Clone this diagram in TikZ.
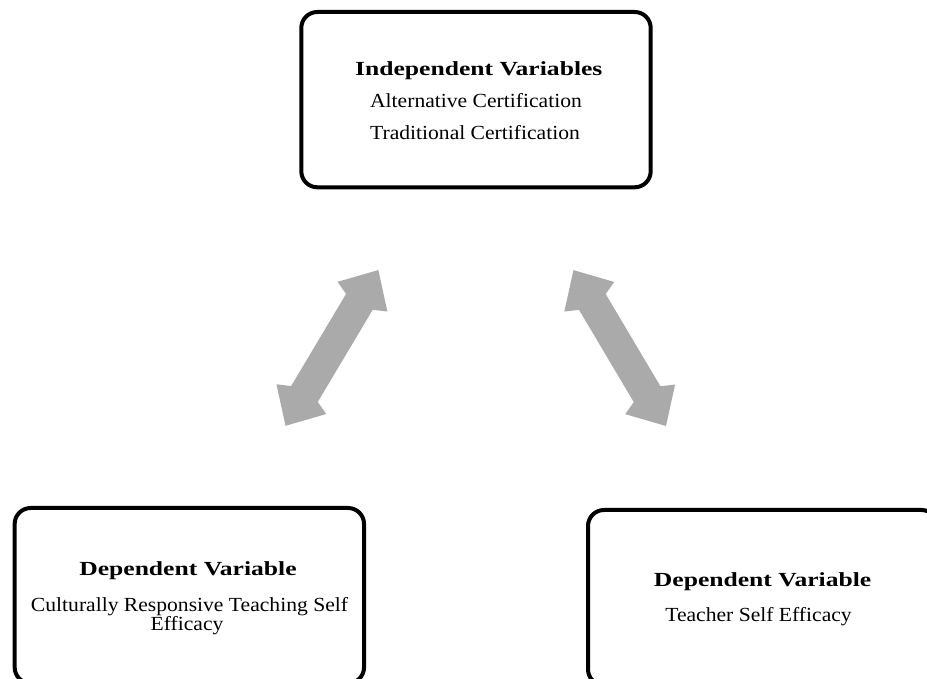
\documentclass[tikz,border=0pt]{standalone}
\usepackage{fontspec}
\setmainfont{Liberation Serif}
\newfontfamily\headfont[FakeStretch=1.28]{Liberation Serif}
\newfontfamily\bodyfont[FakeStretch=1.08]{Liberation Serif}
\definecolor{arrowgray}{RGB}{170,170,170}
\begin{document}
\begin{tikzpicture}[x=1pt,y=1pt,
  varbox/.style={draw=black, line width=4pt, rounded corners=16pt,
    minimum width=349.4pt, minimum height=175.3pt, inner sep=0pt},
  headtxt/.style={anchor=base, inner sep=0pt, font=\headfont\bfseries\fontsize{20}{24}\selectfont},
  bodytxt/.style={anchor=base, inner sep=0pt, font=\bodyfont\fontsize{20}{24}\selectfont},
  dblarrow/.pic={\fill[arrowgray] (0,0) -- (31,29) -- (37,15.5) -- (144.3,15.5)
     -- (150.3,29) -- (181.3,0) -- (150.3,-29) -- (144.3,-15.5) -- (37,-15.5)
     -- (31,-29) -- cycle;}
]
\useasboundingbox (0,0) rectangle (927,679);
\clip (0,0) rectangle (927,679);
\fill[white] (0,0) rectangle (927,679);

% boxes
\node[varbox] (indep) at (476,579.35) {};
\node[varbox] (depl) at (189.35,83.35) {};
\node[varbox] (depr) at (762.7,81.35) {};

% top text
\node[headtxt] (indeph) at (478.8,603) {Independent Variables};
\node[bodytxt] (indepa) at (476,571) {Alternative Certification};
\node[bodytxt] (indept) at (475,539) {Traditional Certification};

% bottom-left text
\node[headtxt] (deplh) at (188,103) {Dependent Variable};
\node[bodytxt] (depla) at (189.5,67.8) {Culturally Responsive Teaching Self};
\node[bodytxt] (deplb) at (187,48.3) {Efficacy};

% bottom-right text
\node[headtxt] (deprh) at (762.6,92.3) {Dependent Variable};
\node[bodytxt] (depra) at (758.5,57.3) {Teacher Self Efficacy};

% arrows
\coordinate (lbot) at (285.5,253.2);
\coordinate (ltop) at (378.3,409);
\coordinate (rbot) at (666,253);
\coordinate (rtop) at (573.3,409);
\pic[rotate=59.2] at (lbot) {dblarrow};
\pic[rotate=120.7] at (rbot) {dblarrow};
\end{tikzpicture}
\end{document}
